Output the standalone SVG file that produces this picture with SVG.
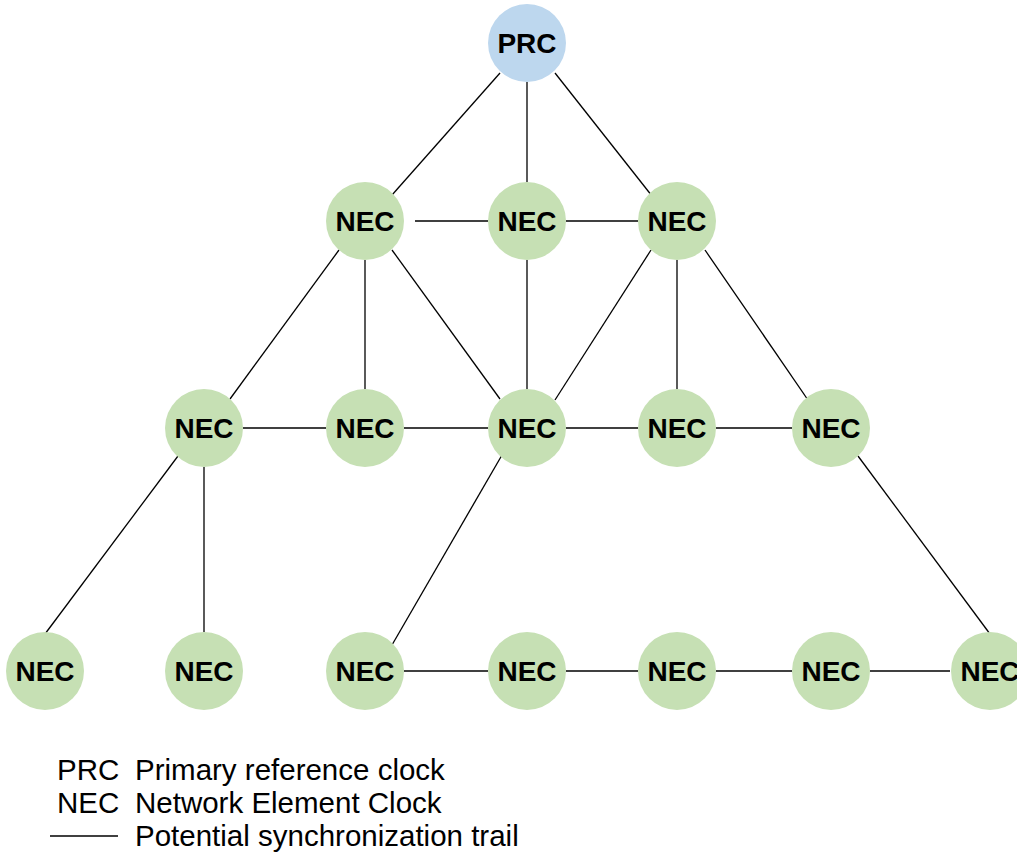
<svg xmlns="http://www.w3.org/2000/svg" width="1017" height="857" viewBox="0 0 1017 857">
  <style>
    .nec { fill: #c6e0b4; }
    .prc { fill: #bdd7ee; }
    .lbl { font-family: "Liberation Sans", Arial, sans-serif; font-weight: bold; font-size: 28px; fill: #000; text-anchor: middle; }
    .leg { font-family: "Liberation Sans", Arial, sans-serif; font-size: 29.5px; fill: #000; }
    .trail { stroke: #000; stroke-width: 1.3; fill: none; }
  </style>
  <rect width="1017" height="857" fill="#fff"/>

  <!-- synchronization trails -->
  <g id="connectors" class="trail">
    <line x1="500" y1="73" x2="392" y2="195"/>
    <line x1="527" y1="82" x2="527" y2="182"/>
    <line x1="555" y1="73" x2="652" y2="196"/>
    <line x1="415" y1="221" x2="488" y2="221"/>
    <line x1="566" y1="221" x2="638" y2="221"/>
    <line x1="339" y1="250" x2="230" y2="399"/>
    <line x1="365" y1="260" x2="365" y2="389"/>
    <line x1="392" y1="250" x2="500" y2="399"/>
    <line x1="527" y1="260" x2="527" y2="389"/>
    <line x1="651" y1="250" x2="555" y2="400"/>
    <line x1="677" y1="260" x2="677" y2="389"/>
    <line x1="705" y1="250" x2="808" y2="400"/>
    <line x1="243" y1="428" x2="326" y2="428"/>
    <line x1="404" y1="428" x2="488" y2="428"/>
    <line x1="566" y1="428" x2="638" y2="428"/>
    <line x1="716" y1="428" x2="792" y2="428"/>
    <line x1="178" y1="456" x2="45" y2="634"/>
    <line x1="204" y1="467" x2="204" y2="632"/>
    <line x1="502" y1="455" x2="392" y2="645"/>
    <line x1="858" y1="456" x2="990" y2="634"/>
    <line x1="404" y1="671" x2="488" y2="671"/>
    <line x1="566" y1="671" x2="638" y2="671"/>
    <line x1="716" y1="671" x2="792" y2="671"/>
    <line x1="870" y1="671" x2="950" y2="671"/>
  </g>

  <!-- clocks -->
  <g id="prc"><circle class="prc" cx="527" cy="43" r="39"/><text class="lbl" x="527" y="53">PRC</text></g>

  <g id="nec-2-1"><circle class="nec" cx="365" cy="221" r="39"/><text class="lbl" x="365" y="231">NEC</text></g>
  <g id="nec-2-2"><circle class="nec" cx="527" cy="221" r="39"/><text class="lbl" x="527" y="231">NEC</text></g>
  <g id="nec-2-3"><circle class="nec" cx="677" cy="221" r="39"/><text class="lbl" x="677" y="231">NEC</text></g>

  <g id="nec-3-1"><circle class="nec" cx="204" cy="428" r="39"/><text class="lbl" x="204" y="438">NEC</text></g>
  <g id="nec-3-2"><circle class="nec" cx="365" cy="428" r="39"/><text class="lbl" x="365" y="438">NEC</text></g>
  <g id="nec-3-3"><circle class="nec" cx="527" cy="428" r="39"/><text class="lbl" x="527" y="438">NEC</text></g>
  <g id="nec-3-4"><circle class="nec" cx="677" cy="428" r="39"/><text class="lbl" x="677" y="438">NEC</text></g>
  <g id="nec-3-5"><circle class="nec" cx="831" cy="428" r="39"/><text class="lbl" x="831" y="438">NEC</text></g>

  <g id="nec-4-1"><circle class="nec" cx="45" cy="671" r="39"/><text class="lbl" x="45" y="681">NEC</text></g>
  <g id="nec-4-2"><circle class="nec" cx="204" cy="671" r="39"/><text class="lbl" x="204" y="681">NEC</text></g>
  <g id="nec-4-3"><circle class="nec" cx="365" cy="671" r="39"/><text class="lbl" x="365" y="681">NEC</text></g>
  <g id="nec-4-4"><circle class="nec" cx="527" cy="671" r="39"/><text class="lbl" x="527" y="681">NEC</text></g>
  <g id="nec-4-5"><circle class="nec" cx="677" cy="671" r="39"/><text class="lbl" x="677" y="681">NEC</text></g>
  <g id="nec-4-6"><circle class="nec" cx="831" cy="671" r="39"/><text class="lbl" x="831" y="681">NEC</text></g>
  <!-- this clock runs past the right edge of the drawing -->
  <g id="nec-4-7"><circle class="nec" cx="990" cy="671" r="39"/><text class="lbl" x="990" y="681">NEC</text></g>

  <!-- legend -->
  <g id="legend">
    <text class="leg" x="57" y="780">PRC</text>
    <text class="leg" x="135" y="780">Primary reference clock</text>
    <text class="leg" x="57" y="813">NEC</text>
    <text class="leg" x="135" y="813">Network Element Clock</text>
    <line class="trail" x1="50" y1="836" x2="118" y2="836"/>
    <text class="leg" x="135" y="846">Potential synchronization trail</text>
  </g>
</svg>
